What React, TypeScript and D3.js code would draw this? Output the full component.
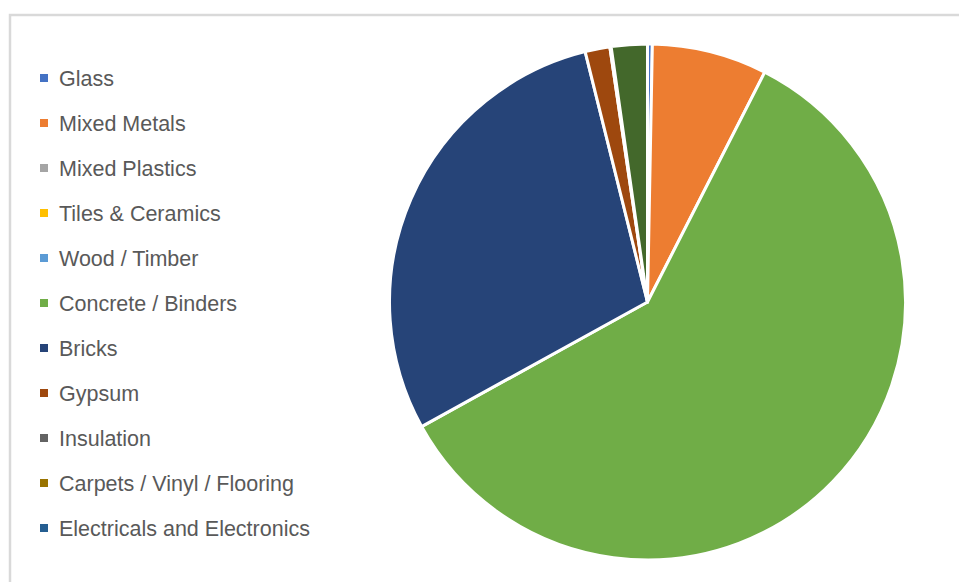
import React from "react";
import * as d3 from "d3";

const categories = [
  "Glass",
  "Mixed Metals",
  "Mixed Plastics",
  "Tiles & Ceramics",
  "Wood / Timber",
  "Concrete / Binders",
  "Bricks",
  "Gypsum",
  "Insulation",
  "Carpets / Vinyl / Flooring",
  "Electricals and Electronics",
  "Other",
];
const values = [0.3, 7.2, 0, 0, 0, 59.4, 29.1, 1.55, 0.08, 0, 0, 2.25];
const colors = [
  "#4472C4",
  "#ED7D31",
  "#A5A5A5",
  "#FFC000",
  "#5B9BD5",
  "#70AD47",
  "#264478",
  "#9E480E",
  "#636363",
  "#997300",
  "#255E91",
  "#43682B",
];
const legendCount = 11;

const W = 959;
const H = 582;

export default function App() {
  const cx = 647.5;
  const cy = 302;
  const r = 258;
  const data = categories.map((c, i) => ({ name: c, value: values[i], color: colors[i] }));
  const pie = d3.pie<any>().value((d) => d.value).sort(null)(data);
  const arc = d3.arc<any>().innerRadius(0).outerRadius(r);
  const ly = d3.scaleLinear().domain([0, 1]).range([78, 123]);

  return (
    <svg
      width={W}
      height={H}
      style={{ position: "absolute", left: 0, top: 0, background: "#fff" }}
    >
      <rect x={0} y={0} width={W} height={H} fill="#fff" />
      <path d={`M10,${H + 5} L10,15 L${W + 5},15`} fill="none" stroke="#D9D9D9" strokeWidth={2.5} />
      <g transform={`translate(${cx},${cy})`}>
        {pie.map((p, i) =>
          p.data.value > 0 ? (
            <path key={i} d={arc(p) as string} fill={p.data.color} stroke="#fff" strokeWidth={3} strokeLinejoin="round" />
          ) : null
        )}
      </g>
      <g>
        {data.slice(0, legendCount).map((d, i) => (
          <g key={i} transform={`translate(0,${ly(i)})`}>
            <rect x={40} y={-4} width={8} height={8} fill={d.color} />
            <text
              x={59}
              y={0}
              dy="0.35em"
              fontFamily="'Liberation Sans', Arial, sans-serif"
              fontSize={21.5}
              fill="#595959"
            >
              {d.name}
            </text>
          </g>
        ))}
      </g>
    </svg>
  );
}
